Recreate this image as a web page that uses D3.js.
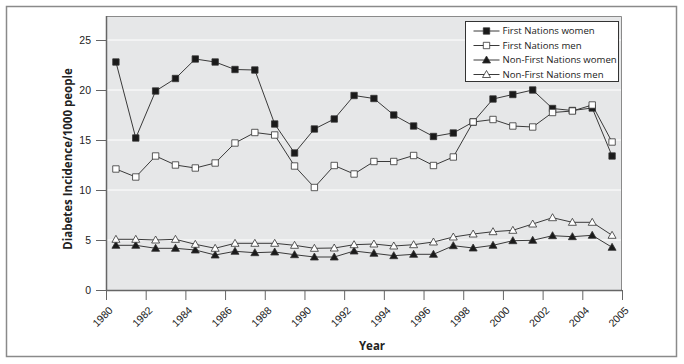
<!DOCTYPE html>
<html>
<head>
<meta charset="utf-8">
<script src="https://cdn.jsdelivr.net/npm/d3@7"></script>
<style>
  body { margin: 0; background: #fff; }
  svg { display: block; font-family: "Open Sans", "Noto Sans", sans-serif; }
  .tick text { font-size: 10.5px; fill: #222; }
  .axis-label { font-size: 11.5px; font-weight: bold; fill: #222; }
  .legend-text { font-size: 9.6px; fill: #1a1a1a; }
</style>
</head>
<body>
<div id="chart"></div>
<script>
// data
const years = [1980, 1981, 1982, 1983, 1984, 1985, 1986, 1987, 1988, 1989, 1990, 1991, 1992,
               1993, 1994, 1995, 1996, 1997, 1998, 1999, 2000, 2001, 2002, 2003, 2004, 2005];
const fnWomen = [22.8, 15.2, 19.9, 21.15, 23.1, 22.8, 22.05, 22.0, 16.6, 13.7, 16.1, 17.1, 19.45,
                 19.15, 17.5, 16.4, 15.35, 15.7, 16.8, 19.1, 19.55, 20.0, 18.15, 17.95, 18.2, 13.4];
const fnMen = [12.1, 11.3, 13.4, 12.5, 12.2, 12.7, 14.7, 15.75, 15.5, 12.4, 10.25, 12.45, 11.6,
               12.85, 12.85, 13.45, 12.45, 13.3, 16.8, 17.05, 16.4, 16.3, 17.75, 17.9, 18.5, 14.8];
const nonFnWomen = [4.47, 4.47, 4.17, 4.17, 4.0, 3.5, 3.87, 3.73, 3.8, 3.53, 3.3, 3.3, 3.9,
                    3.67, 3.43, 3.57, 3.57, 4.43, 4.2, 4.47, 4.93, 4.97, 5.43, 5.33, 5.47, 4.27];
const nonFnMen = [5.07, 5.07, 5.0, 5.07, 4.57, 4.17, 4.67, 4.67, 4.67, 4.47, 4.17, 4.2, 4.53,
                  4.6, 4.4, 4.53, 4.8, 5.3, 5.6, 5.83, 5.97, 6.6, 7.23, 6.77, 6.77, 5.47];
const seriesNames = ["First Nations women", "First Nations men", "Non-First Nations women", "Non-First Nations men"];
const xTickLabels = ["1980", "1982", "1984", "1986", "1988", "1990", "1992", "1994",
                     "1996", "1998", "2000", "2002", "2004", "2005"];
const yTicks = [0, 5, 10, 15, 20, 25];

const W = 684, H = 364;
const margin = {top: 16, right: 62, bottom: 74, left: 106},
    width = W - margin.left - margin.right,
    height = H - margin.top - margin.bottom;

const svg = d3.select("#chart").append("svg")
    .attr("width", W)
    .attr("height", H);

// outer frame
svg.append("rect")
  .attr("x", 6.5).attr("y", 6.5)
  .attr("width", 670).attr("height", 350)
  .attr("fill", "#fff")
  .attr("stroke", "#8a8a8a")
  .attr("stroke-width", 1.5);

const g = svg.append("g")
    .attr("transform", "translate(" + margin.left + "," + margin.top + ")");

// category axis: one slot per year, ticks on slot edges
const xScale = d3.scaleLinear()
  .domain([years[0], years[years.length - 1] + 1])
  .range([0, width]);
const yScale = d3.scaleLinear()
  .domain([0, 27.4])
  .range([height, 0]);

const xPos = i => xScale(years[i] + 0.5);

// plot background
g.append("rect")
  .attr("width", width).attr("height", height)
  .attr("fill", "#e6e7e8");

// grid
g.append("g")
  .selectAll("line")
  .data(yTicks.filter(d => d > 0))
  .enter().append("line")
  .attr("x1", 0).attr("x2", width)
  .attr("y1", d => yScale(d)).attr("y2", d => yScale(d))
  .attr("stroke", "#fff")
  .attr("stroke-width", 1);

// frame top/right
g.append("path")
  .attr("d", "M0,0.5H" + (width - 0.5) + "V" + height)
  .attr("fill", "none")
  .attr("stroke", "#8a8a8a");

// y axis
const yAxis = d3.axisLeft(yScale).tickValues(yTicks).tickSize(10).tickPadding(5);
const yG = g.append("g").call(yAxis);
yG.select(".domain").remove();
yG.selectAll("line").attr("stroke", "#666");
g.append("line")
  .attr("x1", 0.5).attr("x2", 0.5).attr("y1", 0).attr("y2", height)
  .attr("stroke", "#666").attr("stroke-width", 1.5);

// x axis
const xTickValues = xTickLabels.map((d, i) => i === xTickLabels.length - 1 ? years[years.length - 1] + 1 : +d);
const xAxis = d3.axisBottom(xScale)
  .tickValues(xTickValues)
  .tickFormat((d, i) => xTickLabels[i])
  .tickSize(10);
const xG = g.append("g")
  .attr("transform", "translate(0," + height + ")")
  .call(xAxis);
xG.select(".domain").remove();
xG.selectAll("line").attr("stroke", "#666");
xG.selectAll("text")
  .attr("y", 0).attr("dy", 0)
  .attr("text-anchor", "end")
  .attr("transform", "translate(7,21) rotate(-45)");
g.append("line")
  .attr("x1", 0).attr("x2", width).attr("y1", height + 0.5).attr("y2", height + 0.5)
  .attr("stroke", "#666").attr("stroke-width", 1.5);

// axis labels
g.append("text")
  .attr("class", "axis-label")
  .attr("text-anchor", "middle")
  .attr("transform", `translate(${-34}, ${height / 2 + 6}) rotate(-90)`)
  .text("Diabetes Incidence/1000 people");
g.append("text")
  .attr("class", "axis-label")
  .attr("text-anchor", "middle")
  .attr("transform", `translate(${width / 2 + 8}, ${height + 60})`)
  .text("Year");

// series
const series = [
  {name: seriesNames[0], values: fnWomen, shape: "square", fill: "#1a1a1a"},
  {name: seriesNames[1], values: fnMen, shape: "square", fill: "#fff"},
  {name: seriesNames[2], values: nonFnWomen, shape: "triangle", fill: "#1a1a1a"},
  {name: seriesNames[3], values: nonFnMen, shape: "triangle", fill: "#fff"}
];

const line = d3.line()
  .x((d, i) => xPos(i))
  .y(d => yScale(d));

function markerPath(shape) {
  if (shape === "square") return "M-3.2,-3.2H3.2V3.2H-3.2Z";
  return "M0,-4L4,3H-4Z";
}

series.forEach(s => {
  g.append("path")
    .datum(s.values)
    .attr("d", line)
    .attr("fill", "none")
    .attr("stroke", "#3a3a3a")
    .attr("stroke-width", 1);
});

series.forEach(s => {
  g.append("g").selectAll("path")
    .data(s.values)
    .enter().append("path")
    .attr("transform", (d, i) => `translate(${xPos(i)},${yScale(d)})`)
    .attr("d", markerPath(s.shape))
    .attr("fill", s.fill)
    .attr("stroke", "#333")
    .attr("stroke-width", 0.8);
});

// legend
const legend = svg.append("g").attr("transform", "translate(465.5,21.5)");
legend.append("rect")
  .attr("width", 153).attr("height", 60)
  .attr("fill", "#fff")
  .attr("stroke", "#333")
  .attr("stroke-width", 1);

const legendRows = legend.selectAll(".row")
  .data(series)
  .enter().append("g")
  .attr("transform", (d, i) => `translate(0, ${9.5 + i * 14.5})`);
legendRows.append("line")
  .attr("x1", 8).attr("x2", 34)
  .attr("stroke", "#3a3a3a");
legendRows.append("path")
  .attr("transform", "translate(21,0)")
  .attr("d", d => markerPath(d.shape))
  .attr("fill", d => d.fill)
  .attr("stroke", "#333")
  .attr("stroke-width", 0.8);
legendRows.append("text")
  .attr("class", "legend-text")
  .attr("x", 37)
  .attr("dy", "0.36em")
  .text(d => d.name);
</script>
</body>
</html>
